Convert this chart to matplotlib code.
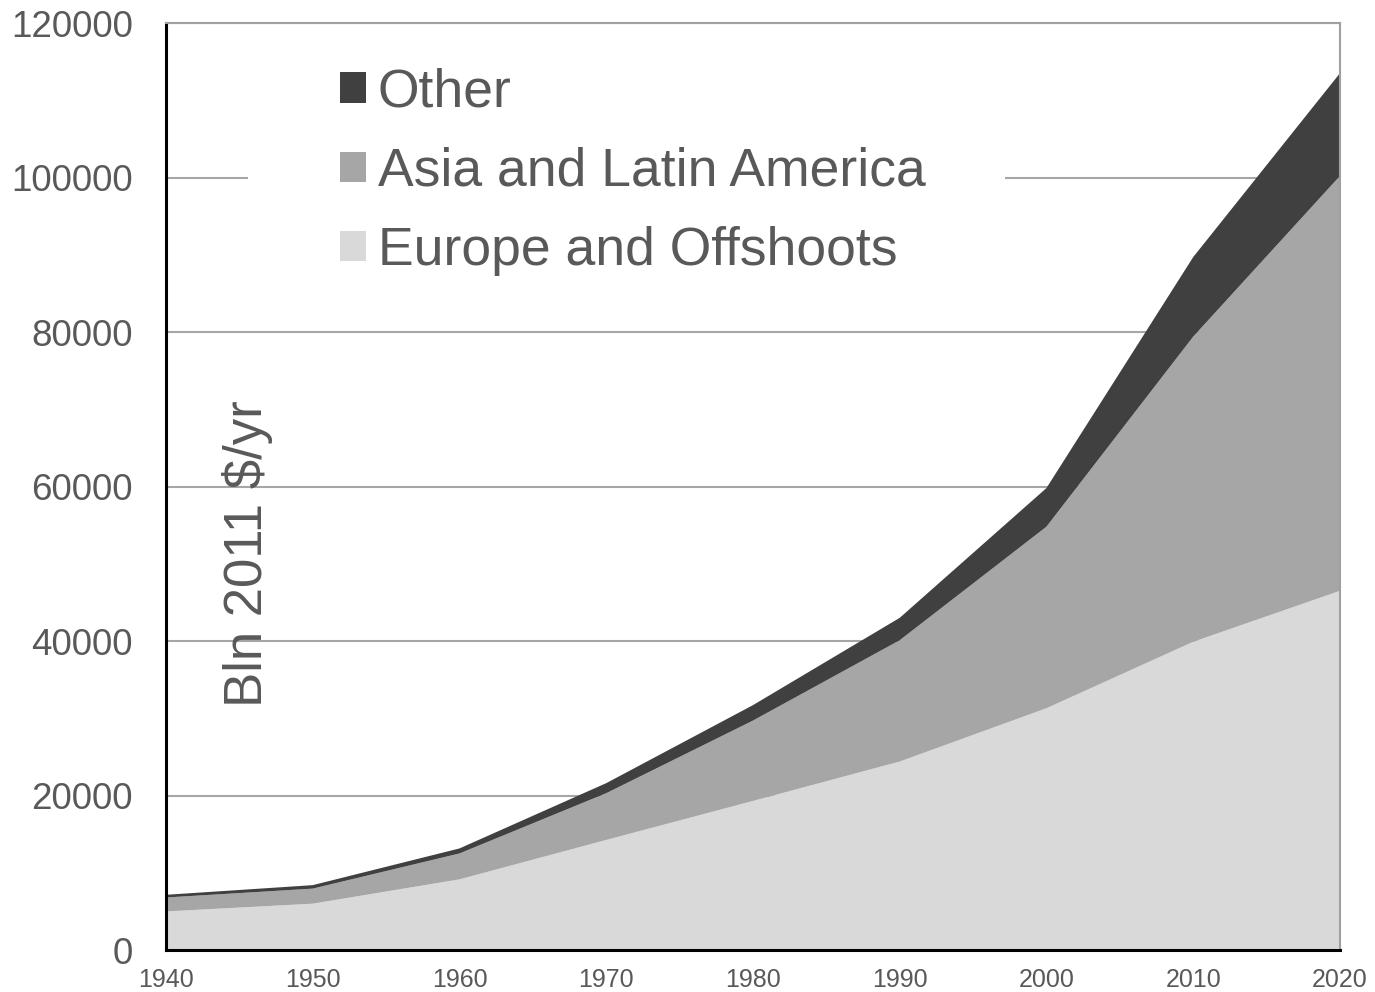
import numpy as np
import matplotlib
matplotlib.use("Agg")
import matplotlib.pyplot as plt
from matplotlib.patches import Rectangle

# ===== Data (Bln 2011 $/yr) =====
years = [1940, 1950, 1960, 1970, 1980, 1990, 2000, 2010, 2020]
europe = [5000, 6000, 9150, 14250, 19300, 24400, 31300, 39900, 46500]
asia_latam = [1800, 1950, 3350, 6050, 10400, 15700, 23500, 39500, 53700]
other = [350, 450, 650, 1300, 2000, 2900, 5000, 10300, 13300]

labels = ["Europe and Offshoots", "Asia and Latin America", "Other"]
colors = ["#d9d9d9", "#a6a6a6", "#404040"]
y_ticks = [0, 20000, 40000, 60000, 80000, 100000, 120000]
x_ticks = [1940, 1950, 1960, 1970, 1980, 1990, 2000, 2010, 2020]
# ====================================================

TEXT_COLOR = "#595959"
plt.rcParams["font.family"] = ["Liberation Sans", "DejaVu Sans"]

fig = plt.figure(figsize=(13.75, 9.92), dpi=100)
ax = fig.add_axes([0.1207, 0.0423, 0.8538, 0.9345])

polys = ax.stackplot(years, europe, asia_latam, other,
                     colors=colors, labels=labels, linewidth=0)

ax.set_xlim(1940, 2020)
ax.set_ylim(0, 120000)
ax.set_xticks(x_ticks)
ax.set_yticks(y_ticks)
ax.set_xticklabels([str(x) for x in x_ticks])
ax.set_yticklabels([str(y) for y in y_ticks])

ax.set_axisbelow(True)
ax.grid(axis="y", color="#a6a6a6", linewidth=1.5)
ax.grid(axis="x", visible=False)

ax.tick_params(axis="both", length=0, colors=TEXT_COLOR)
ax.tick_params(axis="y", labelsize=26.5, pad=24)
ax.tick_params(axis="x", labelsize=18, pad=13)

for side in ["left", "bottom"]:
    ax.spines[side].set_color("black")
    ax.spines[side].set_linewidth(2.2)
for side in ["top", "right"]:
    ax.spines[side].set_color("#a0a0a0")
    ax.spines[side].set_linewidth(1.5)

# white block behind the legend hides the gridline there
ax.add_patch(Rectangle((0.0698, 0.70), 0.645, 0.27, transform=ax.transAxes,
                       facecolor="white", edgecolor="none", zorder=0.8))

handles, labs = ax.get_legend_handles_labels()
leg = ax.legend(handles[::-1], labs[::-1], loc="upper left",
                bbox_to_anchor=(0.1482, 0.952), frameon=False,
                fontsize=38.5, handlelength=0.49, handleheight=0.49,
                handletextpad=0.22, labelspacing=0.55, borderpad=0,
                borderaxespad=0)
for t in leg.get_texts():
    t.set_color(TEXT_COLOR)

ax.text(0.0696, 0.428, "Bln 2011 $/yr", transform=ax.transAxes,
        rotation=90, ha="center", va="center", fontsize=38,
        color=TEXT_COLOR)

fig.savefig("out.png", dpi=100)
